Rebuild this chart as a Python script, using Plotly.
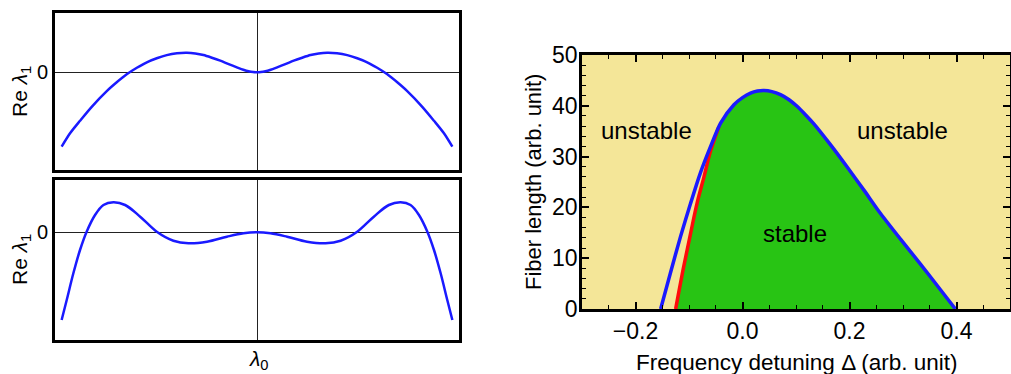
import plotly.graph_objects as go

# ---------------- data ----------------
# Left top panel: Re lambda_1 vs lambda_0 (arbitrary units)
top_x = [-1.0, -0.957, -0.906, -0.846, -0.769, -0.718, -0.667, -0.615, -0.564, -0.513, -0.462, -0.41,
         -0.359, -0.316, -0.274, -0.231, -0.188, -0.145, -0.103, -0.07, -0.043, -0.02, 0.0,
         0.02, 0.043, 0.07, 0.103, 0.145, 0.188, 0.231, 0.274, 0.316, 0.359,
         0.41, 0.462, 0.513, 0.564, 0.615, 0.667, 0.718, 0.769, 0.846, 0.906, 0.957, 1.0]
top_y = [-74.4, -61, -48.5, -34.5, -18.8, -10, -2, 4.5, 10, 14, 17.2, 19.1,
         19.6, 18.9, 17.3, 14.6, 11.6, 8.2, 5, 2.6, 1.0, 0.2, 0,
         0.2, 1.0, 2.6, 5, 8.2, 11.6, 14.6, 17.3, 18.9, 19.6,
         19.1, 17.2, 14, 10, 4.5, -2, -10, -18.8, -34.5, -48.5, -61, -74.4]

# Left bottom panel
bot_x = [-1.0, -0.974, -0.940, -0.906, -0.872, -0.829, -0.786, -0.735, -0.675, -0.598, -0.513, -0.428,
         -0.351, -0.256, -0.154, -0.069, 0.0,
         0.069, 0.154, 0.256, 0.351, 0.428, 0.513, 0.598, 0.675, 0.735, 0.786, 0.829, 0.872, 0.906,
         0.940, 0.974, 1.0]
bot_y = [-87.7, -67.7, -41, -17.7, 0.6, 17.3, 27.3, 30, 27.3, 15.6, 0.6, -8.4,
         -11, -9.4, -4.4, -1, 0,
         -1, -4.4, -9.4, -11, -8.4, 0.6, 15.6, 27.3, 30, 27.3, 17.3, 0.6, -17.7,
         -41, -67.7, -87.7]

# Right panel: stability boundary (blue) and inner boundary (red)
blue_x = [-0.153, -0.135, -0.116, -0.097, -0.079, -0.060, -0.041, -0.016, 0.000, 0.015, 0.028, 0.040,
          0.055, 0.071, 0.087, 0.102, 0.118, 0.133, 0.164, 0.196, 0.227, 0.258, 0.295, 0.333, 0.370, 0.398]
blue_y = [0, 7.0, 14.2, 20.8, 26.7, 31.9, 36.6, 40.2, 41.6, 42.5, 42.9, 43.0,
          42.8, 42.2, 41.2, 39.9, 38.2, 36.5, 32.4, 27.9, 23.4, 18.8, 13.8, 8.8, 3.8, 0]
red_x = [-0.125, -0.110, -0.097, -0.085, -0.072, -0.060, -0.044]
red_y = [0, 8.3, 14.9, 20.8, 26.0, 31.0, 35.9]

x_ticks = [-0.2, 0.0, 0.2, 0.4]
y_ticks = [0, 10, 20, 30, 40, 50]

# ---------------- styling ----------------
W, H = 1011, 374
FONT = "Liberation Sans, Arial, sans-serif"
BLUE = "#1a1aff"
YELLOW = "#f4e698"
GREEN = "#28c414"


def px(x):
    return x / W


def py(y):
    return (H - y) / H


fig = go.Figure()

# left panels
fig.add_trace(go.Scatter(x=top_x, y=top_y, mode="lines",
                         line=dict(color=BLUE, width=2.5, shape="spline", smoothing=0.8),
                         xaxis="x", yaxis="y", showlegend=False, hoverinfo="skip"))
fig.add_trace(go.Scatter(x=bot_x, y=bot_y, mode="lines",
                         line=dict(color=BLUE, width=2.5, shape="spline", smoothing=1.0),
                         xaxis="x2", yaxis="y2", showlegend=False, hoverinfo="skip"))

# right panel: green stable region
jx = red_x[-1]
poly_x = list(red_x) + [x for x in blue_x if x > jx] + [red_x[0]]
poly_y = list(red_y) + [y for x, y in zip(blue_x, blue_y) if x > jx] + [0]
fig.add_trace(go.Scatter(x=poly_x, y=poly_y, mode="lines", fill="toself", fillcolor=GREEN,
                         line=dict(width=0, color=GREEN), xaxis="x3", yaxis="y3",
                         showlegend=False, hoverinfo="skip"))
fig.add_trace(go.Scatter(x=red_x, y=red_y, mode="lines", line=dict(color="#ff0a0a", width=3.5, shape="spline"),
                         xaxis="x3", yaxis="y3", showlegend=False, hoverinfo="skip"))
fig.add_trace(go.Scatter(x=blue_x, y=blue_y, mode="lines",
                         line=dict(color=BLUE, width=3.5, shape="spline", smoothing=0.7),
                         xaxis="x3", yaxis="y3", showlegend=False, hoverinfo="skip"))

left_x_common = dict(range=[-1.034, 1.034], showticklabels=False, ticks="", showgrid=False,
                     zeroline=True, zerolinecolor="#222", zerolinewidth=1.3,
                     showline=True, linecolor="black", linewidth=2.8, mirror=True,
                     domain=[px(55), px(459)], fixedrange=True, automargin=False)
left_y_common = dict(tickvals=[0], ticktext=["0"], ticks="", showgrid=False,
                     zeroline=True, zerolinecolor="#222", zerolinewidth=1.3,
                     showline=True, linecolor="black", linewidth=2.8, mirror=True,
                     tickfont=dict(size=20, color="black"), ticklabelstandoff=0, fixedrange=True,
                     automargin=False)

fig.update_layout(
    template="none",
    width=W, height=H,
    margin=dict(l=0, r=0, t=0, b=0, pad=0),
    paper_bgcolor="white", plot_bgcolor="white",
    font=dict(family=FONT, color="black", size=20),
    xaxis=dict(**left_x_common, anchor="y"),
    yaxis=dict(**left_y_common, range=[-97.7, 59.6], domain=[py(170), py(12.7)], anchor="x"),
    xaxis2=dict(**left_x_common, anchor="y2"),
    yaxis2=dict(**left_y_common, range=[-107.7, 52.3], domain=[py(340), py(180)], anchor="x2"),
    xaxis3=dict(range=[-0.3, 0.5], domain=[px(582), px(1010)], anchor="y3",
                tickvals=x_ticks, tickformat=".1f", ticks="inside", ticklen=7, tickwidth=1.5,
                tickcolor="black", minor=dict(dtick=0.05, tick0=0, ticks="inside", ticklen=4,
                                               tickcolor="black", tickwidth=1.2),
                showline=True, linecolor="black", linewidth=2.5, mirror="allticks",
                showgrid=False, zeroline=False, tickfont=dict(size=23), ticklabelstandoff=0,
                fixedrange=True, automargin=False),
    yaxis3=dict(range=[0, 50], domain=[py(309), py(55)], anchor="x3",
                tickvals=y_ticks, ticks="inside", ticklen=7, tickwidth=1.5, tickcolor="black",
                minor=dict(dtick=2, tick0=0, ticks="inside", ticklen=4, tickcolor="black", tickwidth=1.2),
                showline=True, linecolor="black", linewidth=2.5, mirror="allticks",
                showgrid=False, zeroline=False, tickfont=dict(size=23), ticklabelstandoff=-3,
                fixedrange=True, automargin=False),
    shapes=[dict(type="rect", xref="x3", yref="y3", x0=-0.3, x1=0.5, y0=0, y1=50,
                 fillcolor=YELLOW, line=dict(width=0), layer="below")],
)

ann = []
ann.append(dict(text="Re <i>λ</i><sub>1</sub>", x=px(21), y=py(92), xref="paper", yref="paper",
                textangle=-90, showarrow=False, font=dict(size=21), xanchor="center", yanchor="middle"))
ann.append(dict(text="Re <i>λ</i><sub>1</sub>", x=px(21), y=py(260), xref="paper", yref="paper",
                textangle=-90, showarrow=False, font=dict(size=21), xanchor="center", yanchor="middle"))
ann.append(dict(text="<i>λ</i><sub>0</sub>", x=px(259), y=py(360), xref="paper", yref="paper",
                showarrow=False, font=dict(size=21), xanchor="center", yanchor="middle"))
ann.append(dict(text="Fiber length (arb. unit)", x=px(534), y=py(182), xref="paper", yref="paper",
                textangle=-90, showarrow=False, font=dict(size=22), xanchor="center", yanchor="middle"))
ann.append(dict(text="Frequency detuning Δ (arb. unit)", x=px(796), y=py(362), xref="paper", yref="paper",
                showarrow=False, font=dict(size=22.5), xanchor="center", yanchor="middle"))
ann.append(dict(text="unstable", x=-0.18, y=35.2, xref="x3", yref="y3", showarrow=False,
                font=dict(size=24)))
ann.append(dict(text="unstable", x=0.299, y=35.2, xref="x3", yref="y3", showarrow=False,
                font=dict(size=24)))
ann.append(dict(text="stable", x=0.099, y=14.9, xref="x3", yref="y3", showarrow=False,
                font=dict(size=24)))
fig.update_layout(annotations=ann)

fig.write_html("out.html", config={"displayModeBar": False},
               post_script="document.body.style.margin='0';document.body.style.overflow='hidden';")
